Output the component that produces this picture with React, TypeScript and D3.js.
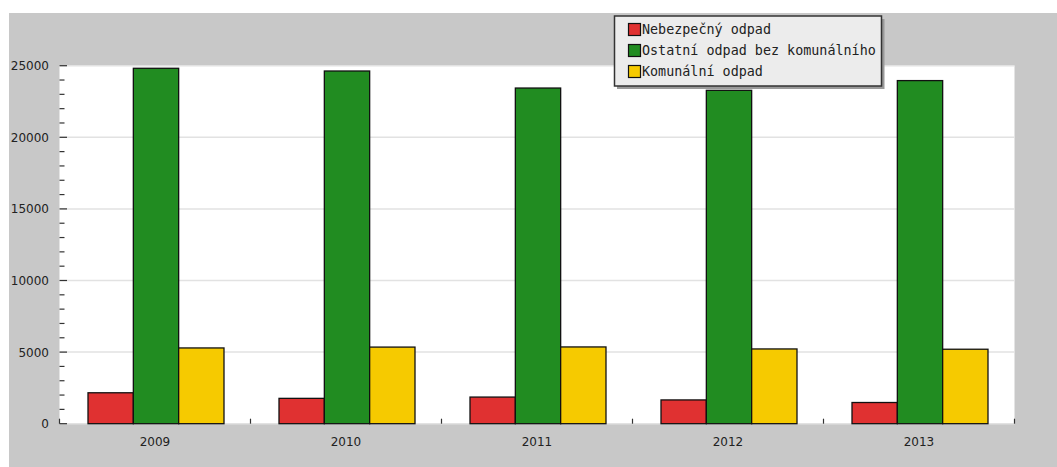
import React from "react";
import * as d3 from "d3";

const years = ["2009", "2010", "2011", "2012", "2013"];
const seriesNames = ["Nebezpečný odpad", "Ostatní odpad bez komunálního", "Komunální odpad"];
const nebezpecny = [2160, 1770, 1860, 1660, 1480];
const ostatni = [24820, 24630, 23440, 23280, 23960];
const komunalni = [5290, 5350, 5360, 5220, 5200];
const colors = ["#e03131", "#218c21", "#f6ca00"];
const yTicks = [0, 5000, 10000, 15000, 20000, 25000];

export default function App() {
  const W = 1057, H = 467;
  const left = 59.5, right = 1014.5, top = 65.7, bottom = 423.7;
  const x = d3.scaleBand<string>().domain(years).range([left, right]).paddingInner(0).paddingOuter(0);
  const y = d3.scaleLinear().domain([0, 25000]).range([bottom, top]);
  const series = [nebezpecny, ostatni, komunalni];
  const groupW = x.bandwidth() * 0.712;
  const barW = groupW / 3;
  const minor = d3.range(0, 25001, 1000);

  return (
    <svg width={W} height={H} style={{ position: "absolute", left: 0, top: 0 }} fontFamily="DejaVu Sans">
      <rect x={9} y={13} width={W - 9} height={H - 13} fill="#c8c8c8" />
      <rect x={left} y={top} width={right - left} height={bottom - top} fill="#ffffff" />
      {yTicks.map((t) => (
        <line key={"g" + t} x1={left} x2={right} y1={y(t)} y2={y(t)} stroke="#e2e2e2" strokeWidth={1.5} />
      ))}
      {minor.map((t) => (
        <line key={"m" + t} x1={left} x2={t % 5000 === 0 ? left + 7.5 : left + 5} y1={y(t)} y2={y(t)} stroke="#333" strokeWidth={1.2} />
      ))}
      {years.map((yr) => (
        <line key={"c" + yr} x1={x(yr)!} x2={x(yr)!} y1={bottom} y2={bottom - 5} stroke="#333" strokeWidth={1.2} />
      ))}
      <line x1={right} x2={right} y1={bottom} y2={bottom - 5} stroke="#333" strokeWidth={1.2} />
      {years.map((yr, i) => {
        const gx = x(yr)! + (x.bandwidth() - groupW) / 2 + 1;
        return series.map((s, k) => (
          <rect
            key={yr + k}
            x={gx + k * barW}
            y={y(s[i])}
            width={barW}
            height={bottom - y(s[i])}
            fill={colors[k]}
            stroke="#111"
            strokeWidth={1.3}
          />
        ));
      })}
      {yTicks.map((t) => (
        <text key={"l" + t} x={49} y={y(t) + 4.5} textAnchor="end" fontSize={12} fill="#222">
          {t}
        </text>
      ))}
      {years.map((yr) => (
        <text key={"x" + yr} x={x(yr)! + x.bandwidth() / 2} y={446} textAnchor="middle" fontSize={12} fill="#222">
          {yr}
        </text>
      ))}
      <g>
        <rect x={617} y={19} width={267.5} height={70} fill="#9a9a9a" />
        <rect x={614.5} y={16} width={267} height={70} fill="#ececec" stroke="#333" strokeWidth={1.5} />
        {seriesNames.map((n, k) => (
          <g key={n}>
            <rect x={628.5} y={23.5 + k * 21} width={12} height={12} fill={colors[k]} stroke="#111" strokeWidth={1.2} />
            <text x={642} y={34 + k * 21} fontSize={13.4} fontFamily="DejaVu Sans Mono" fill="#222">
              {n}
            </text>
          </g>
        ))}
      </g>
    </svg>
  );
}
